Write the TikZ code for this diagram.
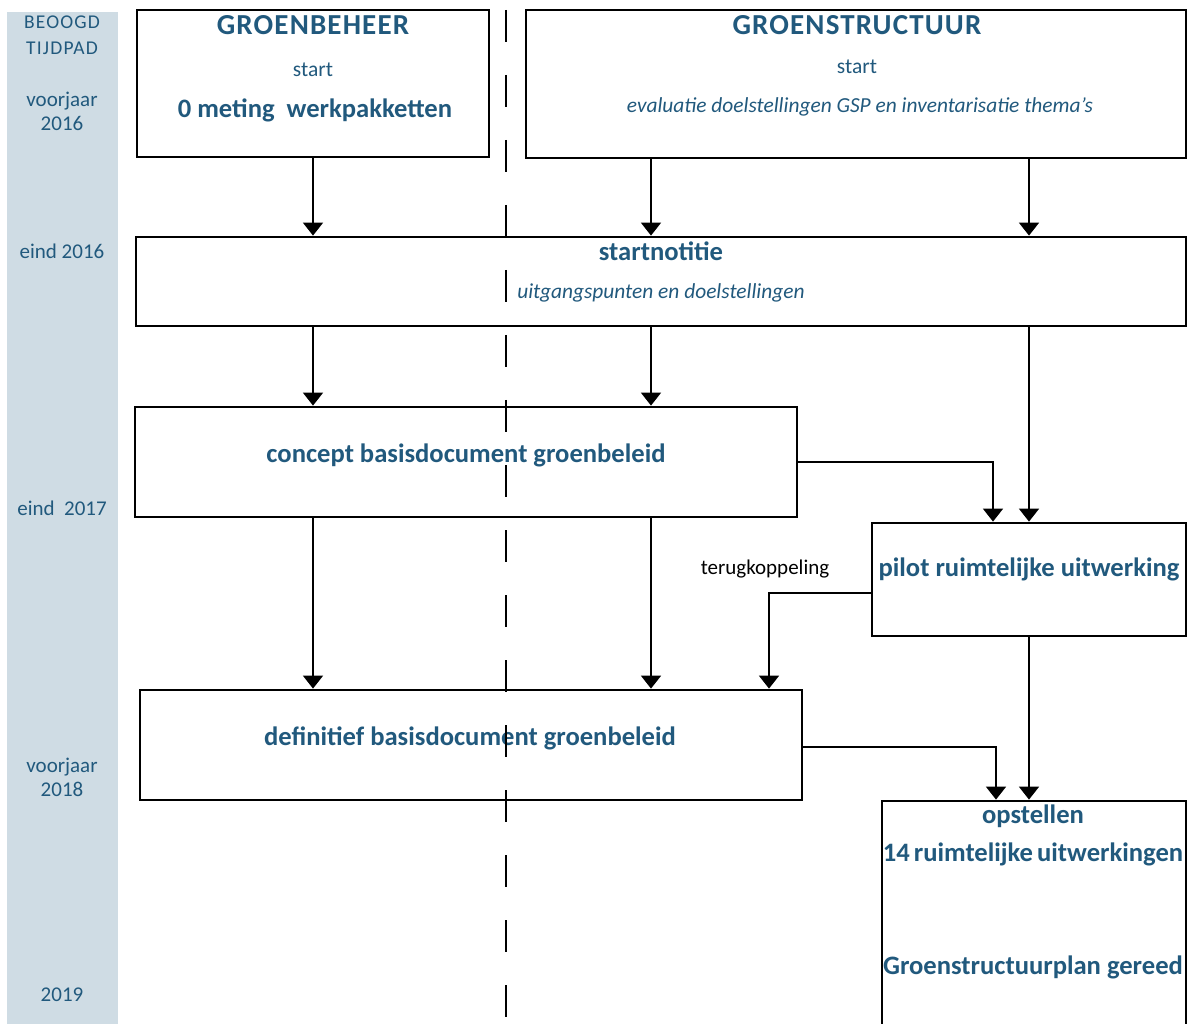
\documentclass[tikz,border=0pt]{standalone}
\usepackage{fontspec}
\setmainfont{Carlito}
\usetikzlibrary{arrows.meta}
\definecolor{tblue}{RGB}{33,89,125}
\definecolor{stripc}{RGB}{207,220,228}
\begin{document}
\begin{tikzpicture}[x=1pt,y=-1pt,
  box/.style={draw=black,line width=2.8pt,fill=white,minimum width=#1,inner sep=0pt},
  conn/.style={line width=1.7pt,-{Triangle[width=20pt,length=13pt]}},
  date/.style={text=tblue,font=\fontsize{21}{25}\selectfont,align=center,inner sep=0pt},
  head/.style={text=tblue,font=\fontsize{29}{34}\selectfont\bfseries\addfontfeature{LetterSpace=4},inner sep=0pt},
  btxt/.style={text=tblue,font=\fontsize{26.6}{30}\selectfont\bfseries,inner sep=0pt},
  stxt/.style={text=tblue,font=\fontsize{21.5}{25}\selectfont,inner sep=0pt},
  itxt/.style={text=tblue,font=\fontsize{21.4}{25}\selectfont\itshape,inner sep=0pt},
  dashline/.style={line width=1.6pt,dash pattern=on 32pt off 33pt}]
\useasboundingbox (0,0) rectangle (1187,1024);
% time strip
\fill[stripc] (7,12) rectangle (118,1030);
\node[date,font=\fontsize{19.5}{26}\selectfont\addfontfeature{LetterSpace=6}] (tp) at (62,35) {BEOOGD\\TIJDPAD};
\node[date] (d1) at (62,111) {voorjaar\\[-1pt]2016};
\node[date] (d2) at (62,251) {eind 2016};
\node[date] (d3) at (62,508) {eind\ \ 2017};
\node[date] (d4) at (62,777) {voorjaar\\[-1pt]2018};
\node[date] (d5) at (62,995) {2019};
% boxes
\node[box=352pt,minimum height=147pt] (gb) at (313,83.5) {};
\node[box=660pt,minimum height=148pt] (gs) at (856,84) {};
\node[box=1050pt,minimum height=89pt] (sn) at (661,281.5) {};
\node[box=662pt,minimum height=110pt] (cb) at (466,462) {};
\node[box=314pt,minimum height=113pt] (pr) at (1029,579.5) {};
\node[box=662pt,minimum height=110pt] (db) at (471,745) {};
\node[box=304pt,minimum height=240pt] (op) at (1034,921) {};
% texts
\node[head] (gbh) at (313,25) {GROENBEHEER};
\node[stxt] (gbs) at (313,70) {start};
\node[btxt] (gbt) at (315,110) {0 meting\ \ werkpakketten};
\node[head] (gsh) at (857,25) {GROENSTRUCTUUR};
\node[stxt] (gss) at (857,67) {start};
\node[itxt] (gst) at (860,107) {evaluatie doelstellingen GSP en inventarisatie thema’s};
\node[btxt] (snh) at (661,251) {startnotitie};
\node[itxt] (snt) at (661,293) {uitgangspunten en doelstellingen};
\node[btxt] (cbt) at (466,455) {concept basisdocument groenbeleid};
\node[btxt] (prt) at (1029,569) {pilot ruimtelijke uitwerking};
\node[text=black,font=\fontsize{21}{24}\selectfont,inner sep=0pt] (tk) at (765,569) {terugkoppeling};
\node[btxt] (dbt) at (470,738) {definitief basisdocument groenbeleid};
\node[btxt] (op1) at (1033,816) {opstellen};
\node[btxt] (op2) at (1033,854) {14\hspace{4pt}ruimtelijke\hspace{4pt}uitwerkingen};
\node[btxt] (op3) at (1033,967) {Groenstructuurplan gereed};
% column coordinates
\coordinate (c1) at (313,0);
\coordinate (c2) at (651,0);
\coordinate (c3) at (1029,0);
\coordinate (c4) at (993,0);
\coordinate (c5) at (769,0);
\coordinate (c6) at (996,0);
% connectors
\draw[conn] (c1 |- gb.south) -- (c1 |- sn.north);
\draw[conn] (c2 |- gs.south) -- (c2 |- sn.north);
\draw[conn] (c3 |- gs.south) -- (c3 |- sn.north);
\draw[conn] (c1 |- sn.south) -- (c1 |- cb.north);
\draw[conn] (c2 |- sn.south) -- (c2 |- cb.north);
\draw[conn] (c3 |- sn.south) -- (c3 |- pr.north);
\draw[conn] (cb.east) -- (c4 |- cb.east) -- (c4 |- pr.north);
\draw[conn] (c1 |- cb.south) -- (c1 |- db.north);
\draw[conn] (c2 |- cb.south) -- (c2 |- db.north);
\coordinate (prw) at ([yshift=-13.5pt]pr.west);
\draw[conn] (prw) -- (c5 |- prw) -- (c5 |- db.north);
\coordinate (dbe) at ([yshift=-2pt]db.east);
\draw[conn] (dbe) -- (c6 |- dbe) -- (c6 |- op.north);
\draw[conn] (c3 |- pr.south) -- (c3 |- op.north);
% dashed divider
\coordinate (dtop) at (506,10);
\coordinate (dbot) at (506,1024);
\draw[dashline] (dtop) -- (dbot);
\end{tikzpicture}
\end{document}
